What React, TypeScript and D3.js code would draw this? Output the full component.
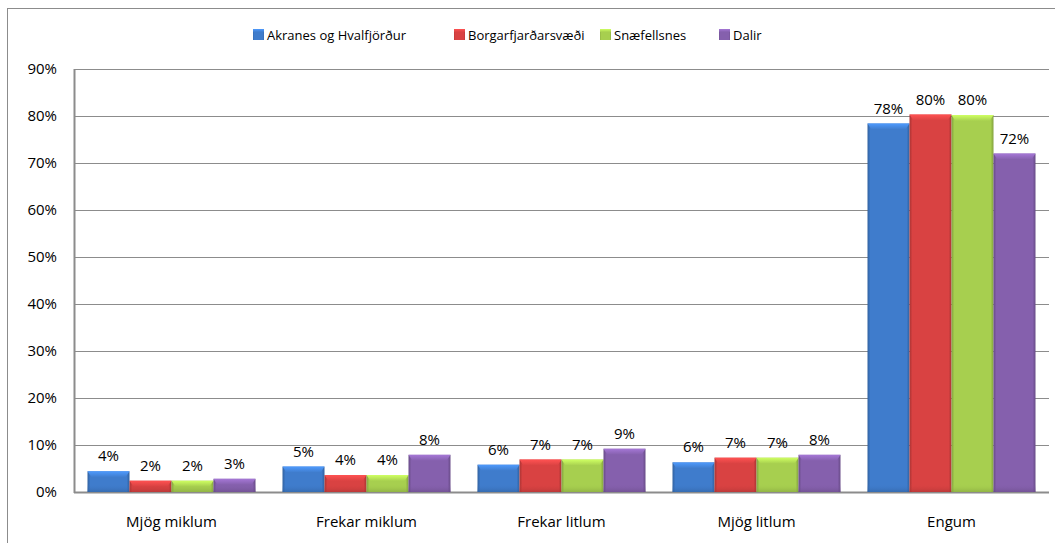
import React from "react";
import * as d3 from "d3";

const categories = ["Mjög miklum", "Frekar miklum", "Frekar litlum", "Mjög litlum", "Engum"];
const seriesNames = ["Akranes og Hvalfjörður", "Borgarfjarðarsvæði", "Snæfellsnes", "Dalir"];
const akranes = [4.4, 5.4, 5.8, 6.3, 78.4];
const borgarfjordur = [2.4, 3.6, 6.9, 7.3, 80.3];
const snaefellsnes = [2.4, 3.6, 6.9, 7.3, 80.2];
const dalir = [2.8, 7.9, 9.2, 7.9, 72.0];
const labelsAkranes = ["4%", "5%", "6%", "6%", "78%"];
const labelsBorgar = ["2%", "4%", "7%", "7%", "80%"];
const labelsSnae = ["2%", "4%", "7%", "7%", "80%"];
const labelsDalir = ["3%", "8%", "9%", "8%", "72%"];
const yTicks = [0, 10, 20, 30, 40, 50, 60, 70, 80, 90];

const seriesValues = [akranes, borgarfjordur, snaefellsnes, dalir];
const seriesLabels = [labelsAkranes, labelsBorgar, labelsSnae, labelsDalir];
const colors = ["#3f7ccc", "#d94242", "#a7cf4f", "#8560ad"];

const FONT = "'Open Sans', sans-serif";

export default function App() {
  const W = 1055, H = 543;
  const left = 74, right = 1049, top = 69, bottom = 492;
  const x = d3.scaleBand<string>().domain(categories).range([left, right]).padding(0);
  const bw = x.bandwidth();
  const gap = 13.5;
  const inner = d3.scaleBand<string>().domain(seriesNames).range([gap, bw - gap]).padding(0);
  const y = d3.scaleLinear().domain([0, 90]).range([bottom, top]);

  const legendX = [253, 454, 600, 719];

  return (
    <svg width={W} height={H} style={{ position: "absolute", left: 0, top: 0, background: "#fff" }} fontFamily={FONT}>
      <defs>
        {colors.map((c, i) => {
          const dark = d3.color(c)!.darker(0.7).formatHex();
          const light = d3.color(c)!.brighter(0.6).formatHex();
          return (
            <React.Fragment key={i}>
              <linearGradient id={`g${i}`} x1="0" x2="1" y1="0" y2="0">
                <stop offset="0%" stopColor={dark} />
                <stop offset="7%" stopColor={c} />
                <stop offset="93%" stopColor={c} />
                <stop offset="100%" stopColor={dark} />
              </linearGradient>
              <linearGradient id={`t${i}`} x1="0" x2="0" y1="0" y2="1">
                <stop offset="0%" stopColor={light} />
                <stop offset="100%" stopColor={c} />
              </linearGradient>
              <linearGradient id={`b${i}`} x1="0" x2="0" y1="0" y2="1">
                <stop offset="0%" stopColor={c} stopOpacity={0} />
                <stop offset="100%" stopColor={dark} stopOpacity={0.6} />
              </linearGradient>
            </React.Fragment>
          );
        })}
      </defs>
      <rect x={7.5} y={8.5} width={W + 10} height={H + 10} fill="none" stroke="#8c8c8c" strokeWidth={1} />

      {yTicks.map((t) => (
        <line key={t} x1={left} x2={right} y1={Math.round(y(t)) + 0.5} y2={Math.round(y(t)) + 0.5}
          stroke="#8c8c8c" strokeWidth={t === 0 ? 2 : 1} />
      ))}
      <line x1={left + 0.5} x2={left + 0.5} y1={top} y2={bottom + 1} stroke="#8c8c8c" strokeWidth={2} />
      {yTicks.map((t) => (
        <text key={t} x={57} y={y(t)} dy="0.35em" textAnchor="end" fontSize={15} fill="#000">{t}%</text>
      ))}

      {categories.map((cat, ci) => (
        <g key={cat}>
          {seriesNames.map((s, si) => {
            const v = seriesValues[si][ci];
            const bx = (x(cat) as number) + (inner(s) as number);
            const w = inner.bandwidth();
            const by = y(v);
            const h = bottom - by;
            const th = Math.min(6, h / 2);
            return (
              <g key={s}>
                <rect x={bx} y={by} width={w} height={h} fill={`url(#g${si})`} />
                <rect x={bx} y={bottom - Math.min(h, 8)} width={w} height={Math.min(h, 8)} fill={`url(#b${si})`} />
                <path d={`M${bx},${by} L${bx + w},${by} L${bx + w - 4},${by + th} L${bx + 4},${by + th} Z`} fill={`url(#t${si})`} />
                <text x={bx + w / 2} y={by - 10} textAnchor="middle" fontSize={15} fill="#000">{seriesLabels[si][ci]}</text>
              </g>
            );
          })}
          <text x={(x(cat) as number) + bw / 2} y={527} textAnchor="middle" fontSize={15} fill="#000">{cat}</text>
        </g>
      ))}

      {seriesNames.map((s, i) => (
        <g key={s}>
          <rect x={legendX[i]} y={29} width={11} height={11} fill={`url(#g${i})`} />
          <rect x={legendX[i]} y={29} width={11} height={3} fill={`url(#t${i})`} />
          <text x={legendX[i] + 14} y={35} dy="0.35em" fontSize={13} fill="#000">{s}</text>
        </g>
      ))}
    </svg>
  );
}
